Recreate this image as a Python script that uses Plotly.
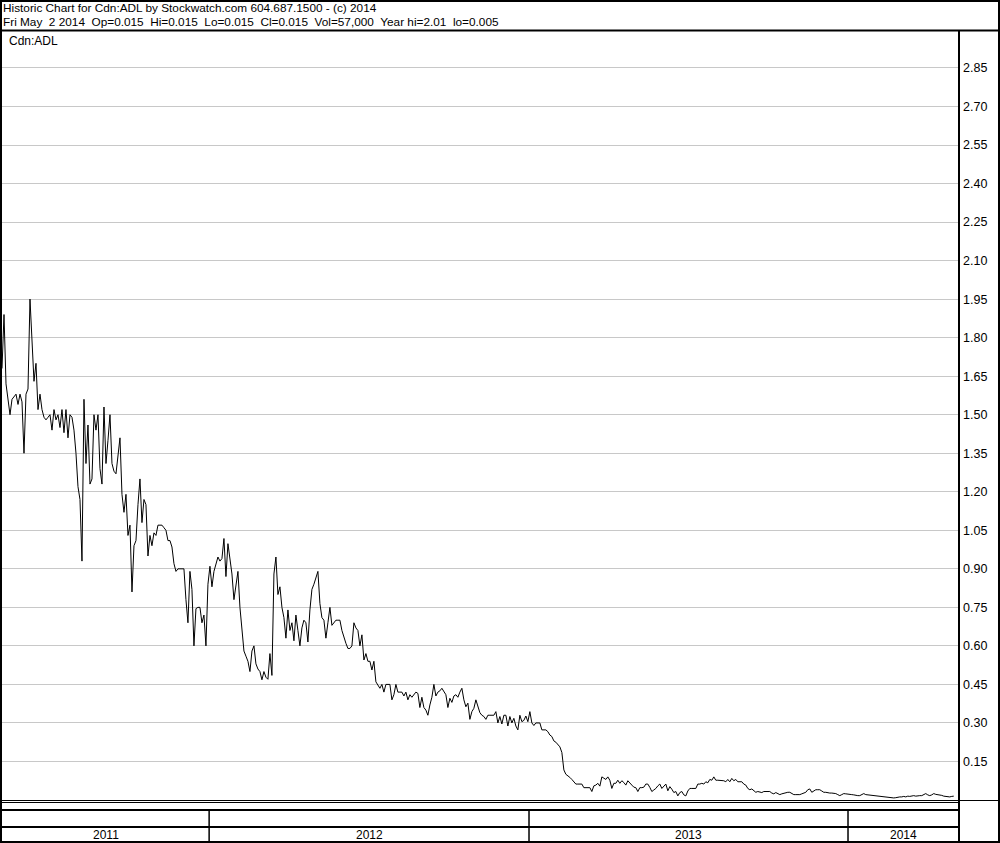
import pandas as pd
import plotly.graph_objects as go

titulo = "Historic Chart for Cdn:ADL by Stockwatch.com 604.687.1500 - (c) 2014"
linha_dia = "Fri May  2 2014  Op=0.015  Hi=0.015  Lo=0.015  Cl=0.015  Vol=57,000  Year hi=2.01  lo=0.005"
simbolo = "Cdn:ADL"

data_inicio = "2011-05-09"
data_fim = "2014-05-02"

# fechamentos, em passos iguais de tempo
precos_2011 = [
    1.68, 1.89, 1.62, 1.55, 1.50, 1.56, 1.57, 1.58, 1.54, 1.58,
    1.55, 1.35, 1.58, 1.60, 1.95, 1.76, 1.63, 1.70, 1.52, 1.58,
    1.52, 1.49, 1.48, 1.49, 1.50, 1.44, 1.52, 1.48, 1.50, 1.45,
    1.52, 1.43, 1.52, 1.41, 1.50, 1.49, 1.44, 1.35, 1.22, 1.17,
    0.93, 1.56, 1.31, 1.46, 1.23, 1.25, 1.50, 1.44, 1.50, 1.29,
    1.23, 1.53, 1.31, 1.40, 1.50, 1.31, 1.28, 1.27, 1.35, 1.41,
    1.19, 1.12, 1.19, 1.03, 1.07, 0.81, 0.99, 1.01, 1.15, 1.25,
    1.08, 1.17, 1.15, 0.95, 1.03, 0.99, 1.04, 1.03, 1.07, 1.07,
    1.07, 1.06, 1.05, 1.01, 1.01, 0.985, 0.92, 0.89, 0.90, 0.90,
    0.90, 0.90, 0.78, 0.69, 0.89, 0.82, 0.60, 0.745, 0.75, 0.75,
    0.69, 0.72, 0.60, 0.84,
]
precos_2012 = [
    0.91, 0.83, 0.89, 0.92, 0.946, 0.93, 0.94, 1.018, 0.87, 0.998,
    0.93, 0.88, 0.78, 0.83, 0.89, 0.75, 0.66, 0.58, 0.56, 0.54,
    0.50, 0.58, 0.60, 0.53, 0.51, 0.50, 0.468, 0.50, 0.478, 0.47,
    0.57, 0.485, 0.88, 0.946, 0.80, 0.83, 0.75, 0.71, 0.63, 0.74,
    0.66, 0.69, 0.62, 0.72, 0.66, 0.60, 0.67, 0.70, 0.69, 0.615,
    0.74, 0.82, 0.84, 0.87, 0.89, 0.765, 0.71, 0.70, 0.63, 0.69,
    0.75, 0.68, 0.69, 0.70, 0.70, 0.70, 0.66, 0.63, 0.61, 0.59,
    0.59, 0.60, 0.69, 0.67, 0.66, 0.60, 0.643, 0.545, 0.57, 0.54,
    0.54, 0.506, 0.54, 0.46, 0.448, 0.435, 0.45, 0.42, 0.45, 0.45,
    0.45, 0.39, 0.41, 0.45, 0.42, 0.42, 0.42, 0.405, 0.42, 0.39,
    0.41, 0.40, 0.41, 0.42, 0.415, 0.36, 0.40, 0.36, 0.35, 0.33,
    0.37, 0.40, 0.45, 0.405, 0.42, 0.425, 0.435, 0.42, 0.41, 0.36,
    0.396, 0.38, 0.405, 0.41, 0.40, 0.42, 0.435, 0.39, 0.363, 0.377,
    0.314, 0.344, 0.357, 0.39, 0.36, 0.34, 0.33, 0.325, 0.314, 0.33,
    0.33, 0.33, 0.33, 0.344, 0.30, 0.325, 0.296, 0.33, 0.33, 0.288,
    0.325, 0.30, 0.318, 0.288, 0.273, 0.33, 0.305, 0.31, 0.327, 0.305,
]
precos_2013 = [
    0.344, 0.30, 0.29, 0.30, 0.30, 0.30, 0.273, 0.273, 0.273, 0.266,
    0.253, 0.247, 0.23, 0.225, 0.215, 0.207, 0.185, 0.117, 0.10, 0.095,
    0.088, 0.08, 0.07, 0.062, 0.062, 0.062, 0.062, 0.048, 0.048, 0.048,
    0.048, 0.033, 0.055, 0.058, 0.065, 0.054, 0.09, 0.085, 0.08, 0.09,
    0.077, 0.045, 0.065, 0.065, 0.077, 0.065, 0.075, 0.068, 0.058, 0.075,
    0.065, 0.058, 0.05, 0.048, 0.033, 0.048, 0.048, 0.05, 0.062, 0.062,
    0.049, 0.033, 0.039, 0.045, 0.055, 0.062, 0.045, 0.054, 0.062, 0.036,
    0.052, 0.042, 0.029, 0.033, 0.016, 0.029, 0.033, 0.02, 0.016, 0.035,
    0.045, 0.045, 0.045, 0.045, 0.062, 0.062, 0.065, 0.062, 0.071, 0.067,
    0.08, 0.077, 0.09, 0.077, 0.077, 0.077, 0.077, 0.075, 0.071, 0.08,
    0.071, 0.084, 0.075, 0.08, 0.071, 0.071, 0.071, 0.062, 0.058, 0.045,
    0.04, 0.043, 0.036, 0.03, 0.033, 0.03, 0.029, 0.033, 0.034, 0.033,
    0.033, 0.027, 0.024, 0.029, 0.026, 0.021, 0.024, 0.027, 0.027, 0.03,
    0.03, 0.025, 0.021, 0.021, 0.021, 0.021, 0.024, 0.027, 0.03, 0.04,
    0.043, 0.03, 0.035, 0.04, 0.04, 0.04, 0.035, 0.03, 0.03, 0.028,
    0.027, 0.027, 0.026, 0.025, 0.021, 0.017, 0.021, 0.025, 0.024, 0.022,
]
precos_2014 = [
    0.021, 0.021, 0.02, 0.018, 0.017, 0.017, 0.021, 0.025, 0.021, 0.02,
    0.018, 0.017, 0.016, 0.014, 0.013, 0.012, 0.011, 0.01, 0.009, 0.008,
    0.008, 0.008, 0.008, 0.009, 0.011, 0.012, 0.012, 0.014, 0.012, 0.015,
    0.014, 0.016, 0.017, 0.015, 0.017, 0.017, 0.017, 0.02, 0.025, 0.02,
    0.017, 0.02, 0.025, 0.022, 0.021, 0.021, 0.018, 0.015, 0.014, 0.013,
    0.012, 0.014, 0.015,
]

anos = ["2011", "2012", "2013", "2014"]
viradas_ano = ["2012-01-01", "2013-01-01", "2014-01-01"]
ticks_y = [0.15, 0.30, 0.45, 0.60, 0.75, 0.90, 1.05, 1.20, 1.35, 1.50,
           1.65, 1.80, 1.95, 2.10, 2.25, 2.40, 2.55, 2.70, 2.85]

FONTE = "Liberation Sans, Arial, sans-serif"
LARGURA, ALTURA = 1000, 843
ESQ, DIR, TOPO, BASE = 2, 41, 32, 43
faixa_x = ["2011-05-09", "2014-05-08"]


def px(x):
    return (x - ESQ) / (LARGURA - ESQ - DIR)


def py(y):
    return (ALTURA - BASE - y) / (ALTURA - TOPO - BASE)


def linha(x0, y0, x1, y1, largura=1, xref="paper"):
    return dict(type="line", xref=xref, yref="paper", x0=x0, y0=py(y0), x1=x1, y1=py(y1),
                line=dict(color="black", width=largura), layer="above")


def gerar_grafico():
    precos = precos_2011 + precos_2012 + precos_2013 + precos_2014
    datas = pd.date_range(data_inicio, data_fim, periods=len(precos))

    fig = go.Figure()
    fig.add_trace(go.Scatter(
        x=datas, y=precos, mode="lines", name=simbolo,
        line=dict(color="black", width=1)
    ))

    shapes = [
        dict(type="rect", xref="paper", yref="paper", x0=px(1), x1=px(999), y0=py(842), y1=py(1),
             line=dict(color="black", width=2), layer="above"),
        linha(px(0), 30.5, px(1000), 30.5, 2),
        linha(px(959), 31, px(959), 843, 2),
        linha(px(2), 800.5, px(1000), 800.5, 1),
        linha(px(2), 802.5, px(959), 802.5, 1),
        linha(px(2), 810, px(959), 810, 2),
        linha(px(2), 827, px(959), 827, 2),
    ]
    for d in viradas_ano:
        shapes.append(linha(d, 810, d, 842, 1.5, xref="x"))

    limites = [faixa_x[0]] + viradas_ano + [faixa_x[1]]
    annotations = []
    for i, ano in enumerate(anos):
        a = pd.Timestamp(limites[i])
        b = pd.Timestamp(limites[i + 1])
        annotations.append(dict(
            x=a + (b - a) / 2, xref="x", y=py(834.5), yref="paper",
            text=ano, showarrow=False, xanchor="center", yanchor="middle",
            font=dict(family=FONTE, size=12, color="black")
        ))

    for texto, y in [(titulo, 8), (linha_dia.replace("  ", "\u00a0 "), 21.5)]:
        annotations.append(dict(
            x=px(1), xref="paper", y=py(y), yref="paper", text=texto,
            showarrow=False, xanchor="left", yanchor="middle",
            font=dict(family=FONTE, size=11.8, color="black")
        ))
    annotations.append(dict(
        x=px(7), xref="paper", y=py(41), yref="paper", text=simbolo,
        showarrow=False, xanchor="left", yanchor="middle",
        font=dict(family=FONTE, size=12, color="black")
    ))

    fig.update_layout(
        width=LARGURA, height=ALTURA,
        margin=dict(l=ESQ, r=DIR, t=TOPO, b=BASE),
        paper_bgcolor="white", plot_bgcolor="white",
        showlegend=False,
        shapes=shapes, annotations=annotations,
        font=dict(family=FONTE, size=12, color="black")
    )
    fig.update_xaxes(type="date", range=faixa_x, showgrid=False, showticklabels=False,
                     zeroline=False, showline=False, ticks="")
    fig.update_yaxes(side="right", range=[0, 2.99], tickvals=ticks_y,
                     ticktext=[f"{v:.2f}" for v in ticks_y],
                     showgrid=True, gridcolor="#c8c8c8", gridwidth=1,
                     zeroline=False, showline=False, ticks="", ticklabelstandoff=3,
                     tickfont=dict(family=FONTE, size=12.5, color="black"))
    return fig


if __name__ == "__main__":
    fig = gerar_grafico()
    # tira a margem padrao do body para o grafico ocupar a janela toda
    fig.write_html("out.html", config={"displayModeBar": False},
                   post_script="document.body.style.margin = '0';")
